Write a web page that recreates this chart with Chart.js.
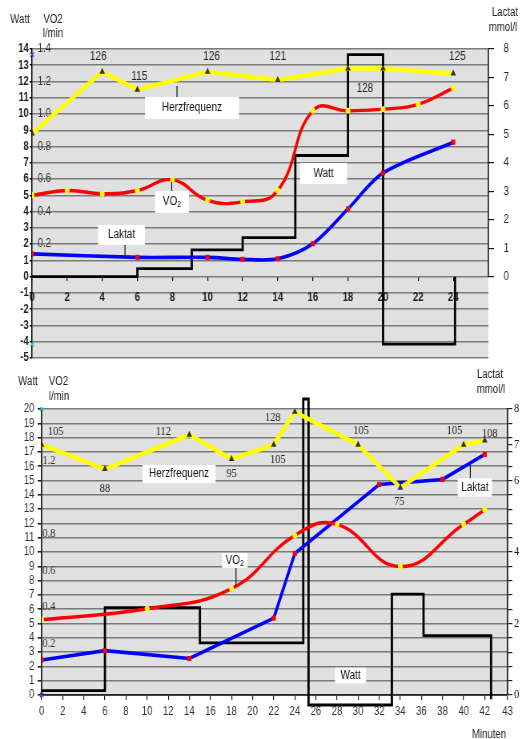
<!DOCTYPE html>
<html>
<head>
<meta charset="utf-8">
<title>Belastungstest – Watt, VO2, Herzfrequenz, Laktat</title>
<script src="https://cdn.jsdelivr.net/npm/chart.js@4.4.1/dist/chart.umd.min.js"></script>
<style>
  html, body { margin: 0; padding: 0; background: #fff; }
  #wrap { position: relative; width: 522px; height: 739px; overflow: hidden; }
  #wrap canvas { position: absolute; left: 0; top: 0; width: 522px; height: 739px; }
</style>
</head>
<body>
<div id="wrap">
  <canvas id="testA" width="652" height="739" style="width:522px;height:739px"></canvas>
  <canvas id="testB" width="652" height="739" style="width:522px;height:739px"></canvas>
</div>
<script>
// ---------------- Test A (upper panel) ----------------
const xTicksA = [0, 2, 4, 6, 8, 10, 12, 14, 16, 18, 20, 22, 24];
const wattTicksA = [-5, -4, -3, -2, -1, 0, 1, 2, 3, 4, 5, 6, 7, 8, 9, 10, 11, 12, 13, 14];
const vo2TicksA = [0.2, 0.4, 0.6, 0.8, 1.0, 1.2, 1.4];
const lactatTicksA = [0, 1, 2, 3, 4, 5, 6, 7, 8];

const vo2MinA = [0, 2, 4, 6, 8, 10, 12, 14, 16, 18, 20, 22, 24];
const vo2A = [0.50, 0.53, 0.51, 0.53, 0.595, 0.47, 0.46, 0.53, 1.02, 1.02, 1.03, 1.06, 1.16];

const lactatMinA = [0, 6, 10, 12, 14, 16, 18, 20, 24];
const lactatA = [0.81, 0.69, 0.69, 0.62, 0.64, 1.17, 2.39, 3.65, 4.73];

const hrMinA = [0, 4, 6, 10, 14, 18, 20, 24];
const hrA = [88, 126, 115, 126, 121, 128, 128, 125];

const wattMinA = [0, 6, 9.1, 12, 15, 18, 20, 24.1];
const wattA = [0, 0.5, 1.65, 2.4, 7.45, 13.65, -4.15, 0];

// ---------------- Test B (lower panel) ----------------
const xTicksB = [0, 2, 4, 6, 8, 10, 12, 14, 16, 18, 20, 22, 24, 26, 28, 30, 32, 34, 36, 38, 40, 42];
const xEndLabelB = '43';
const vo2TicksB = [0.2, 0.4, 0.6, 0.8, 1.2];
const lactatLabelsB = [0, 2, 4, 6, 7, 8];

const vo2MinB = [0, 10, 18, 24, 28, 34, 40, 42];
const vo2B = [0.33, 0.39, 0.50, 0.79, 0.85, 0.62, 0.85, 0.93];

const lactatMinB = [0, 6, 14, 22, 24, 32, 38, 42];
const lactatB = [0.98, 1.24, 1.02, 2.15, 3.96, 5.89, 6.03, 6.73];

const hrMinB = [0, 6, 14, 18, 22, 24, 30, 34, 40, 42];
const hrB = [105, 88, 112, 95, 105, 128, 105, 75, 105, 108];

const wattMinB = [0, 6, 15, 24.8, 25.3, 33.2, 36.2, 42.6];
const wattB = [0.3, 6.1, 3.65, 20.7, -0.7, 7.05, 4.15, -0.3];

// ---------------- drawing helpers ----------------
// The canvases are rendered 652 px wide and displayed 522 px wide.
const SX = 652 / 522;
const px = x => x * SX;
const SANS = "'Liberation Sans', Arial, Helvetica, sans-serif";
const SERIF = "'Liberation Serif', 'Times New Roman', Times, serif";
const INK = '#222';
const GRID = '#7a7a7a';
const PLOT_BG = '#e0e0e0';
const YELLOW = '#ffff00', RED = '#ff0000', BLUE = '#0000ff';

const pts = (xs, ys) => xs.map((x, i) => ({ x, y: ys[i] }));
const fixTicks = values => scale => { scale.ticks = values.map(v => ({ value: v })); };

function plotBackground() {
  return {
    id: 'plotBackground',
    beforeDraw(chart) {
      const { ctx, chartArea: a } = chart;
      ctx.save();
      ctx.fillStyle = PLOT_BG;
      ctx.fillRect(a.left, a.top, a.right - a.left, a.bottom - a.top);
      ctx.restore();
    }
  };
}

// value labels next to the heart-rate markers
function valueLabels(datasetIndex, shifts, font) {
  return {
    id: 'valueLabels',
    afterDatasetsDraw(chart) {
      const meta = chart.getDatasetMeta(datasetIndex);
      const data = chart.data.datasets[datasetIndex].data;
      const ctx = chart.ctx;
      ctx.save();
      ctx.font = font;
      ctx.fillStyle = INK;
      ctx.textAlign = 'center';
      ctx.textBaseline = 'middle';
      shifts.forEach((s, i) => {
        if (!s) return;
        const p = meta.data[i];
        ctx.fillText(String(data[i].y), p.x + px(s[0]), p.y + s[1]);
      });
      ctx.restore();
    }
  };
}

// white label boxes with short leader lines
function callouts(items, font) {
  return {
    id: 'callouts',
    afterDatasetsDraw(chart) {
      const ctx = chart.ctx;
      ctx.save();
      for (const it of items) {
        if (it.lead) {
          ctx.strokeStyle = '#111';
          ctx.lineWidth = 1.2;
          ctx.beginPath();
          ctx.moveTo(px(it.lead[0]), it.lead[1]);
          ctx.lineTo(px(it.lead[0]), it.lead[2]);
          ctx.stroke();
        }
        const [x0, y0, x1, y1] = it.box;
        ctx.fillStyle = '#fff';
        ctx.fillRect(px(x0), y0, px(x1 - x0), y1 - y0);
        ctx.fillStyle = '#111';
        ctx.textBaseline = 'middle';
        ctx.textAlign = 'left';
        ctx.font = font;
        const subFont = font.replace(/[\d.]+px/, m => (parseFloat(m) * 0.72).toFixed(1) + 'px');
        const wMain = ctx.measureText(it.text).width;
        ctx.font = subFont;
        const wSub = it.sub ? ctx.measureText(it.sub).width : 0;
        const cx = px((x0 + x1) / 2), cy = (y0 + y1) / 2;
        const start = cx - (wMain + wSub) / 2;
        ctx.font = font;
        ctx.fillText(it.text, start, cy);
        if (it.sub) {
          ctx.font = subFont;
          ctx.fillText(it.sub, start + wMain, cy + 3);
        }
      }
      ctx.restore();
    }
  };
}

// axis captions outside the plot
function captions(items, font) {
  return {
    id: 'captions',
    afterDraw(chart) {
      const ctx = chart.ctx;
      ctx.save();
      ctx.font = font;
      ctx.fillStyle = INK;
      ctx.textAlign = 'center';
      ctx.textBaseline = 'middle';
      for (const c of items) ctx.fillText(c.text, px(c.x), c.y);
      ctx.restore();
    }
  };
}

// upper panel: the lactate axis line only spans 0…8
function partialAxisLine(scaleId, from, to) {
  return {
    id: 'partialAxisLine',
    afterDraw(chart) {
      const s = chart.scales[scaleId];
      const ctx = chart.ctx;
      ctx.save();
      ctx.strokeStyle = '#111';
      ctx.lineWidth = 1.5;
      ctx.beginPath();
      ctx.moveTo(s.left, s.getPixelForValue(from));
      ctx.lineTo(s.left, s.getPixelForValue(to));
      ctx.stroke();
      ctx.restore();
    }
  };
}

function baseOptions() {
  return {
    responsive: false,
    animation: false,
    devicePixelRatio: 1,
    events: [],
    plugins: { legend: { display: false }, tooltip: { enabled: false } }
  };
}

// ---------------- chart A ----------------
new Chart(document.getElementById('testA'), {
  type: 'line',
  data: {
    datasets: [
      { label: 'Watt', data: pts(wattMinA, wattA), yAxisID: 'y', stepped: 'before',
        borderColor: '#000', borderWidth: 2.8, pointRadius: 0, fill: false, order: 5, clip: false },
      { label: 'Laktat', data: pts(lactatMinA, lactatA), yAxisID: 'lac', tension: 0.3,
        borderColor: BLUE, borderWidth: 3.6, pointStyle: 'rect', pointRadius: 3.6,
        pointBackgroundColor: RED, pointBorderWidth: 0, order: 4 },
      { label: 'VO2', data: pts(vo2MinA, vo2A), yAxisID: 'vo2', tension: 0.45,
        borderColor: RED, borderWidth: 3.4, pointRadius: 3, pointBackgroundColor: YELLOW,
        pointBorderWidth: 0, order: 3 },
      { label: 'Herzfrequenz', data: pts(hrMinA, hrA), yAxisID: 'hr', tension: 0,
        borderColor: YELLOW, borderWidth: 4.5, pointStyle: 'triangle', pointRadius: 4,
        pointBackgroundColor: '#333', pointBorderWidth: 0, order: 2 },
      { label: 'Skala', data: [{ x: 0, y: 13.65 }, { x: 0, y: -4.15 }], yAxisID: 'y', showLine: false,
        pointStyle: 'crossRot', pointRadius: 3, pointBorderWidth: 1.4,
        pointBorderColor: ['#2a3cff', '#22cccc'], order: 1, clip: false }
    ]
  },
  options: Object.assign(baseOptions(), {
    layout: { padding: { top: 49, bottom: 739 - 358, left: 0, right: 0 } },
    scales: {
      x: {
        type: 'linear', min: 0, max: 26, position: { y: 0 },
        afterBuildTicks: fixTicks(xTicksA),
        ticks: { autoSkip: false, maxRotation: 0, padding: 10, color: INK,
                 font: { family: SANS, size: 12, weight: 'bold' }, callback: v => String(v) },
        grid: { drawOnChartArea: false, drawTicks: true, tickLength: 4, color: '#000', tickColor: '#000', lineWidth: 1.2 },
        border: { display: false }
      },
      y: {
        type: 'linear', position: 'left', weight: 3, min: -5, max: 14,
        afterBuildTicks: fixTicks(wattTicksA),
        afterFit: s => { s.width = 40; },
        ticks: { autoSkip: false, padding: 1, color: INK, font: { family: SANS, size: 12, weight: 'bold' },
                 callback: v => String(v) },
        grid: { color: GRID, lineWidth: 1.6, tickLength: 3, tickColor: '#000' },
        border: { display: true, color: '#000', width: 1.5 }
      },
      vo2: {
        type: 'linear', position: 'left', weight: 2, min: -0.5, max: 1.4,
        afterBuildTicks: fixTicks(vo2TicksA),
        afterFit: s => { s.width = 0; },
        ticks: { mirror: true, autoSkip: false, padding: 7, color: '#333',
                 font: { family: SANS, size: 12 }, callback: v => v.toFixed(1) },
        grid: { display: false },
        border: { display: false }
      },
      lac: {
        type: 'linear', position: 'right', min: -2.842, max: 8,
        afterBuildTicks: fixTicks(lactatTicksA),
        afterFit: s => { s.width = 42; },
        ticks: { autoSkip: false, padding: 12, color: INK, font: { family: SANS, size: 12 },
                 callback: v => String(v) },
        grid: { drawOnChartArea: false, tickLength: 7, color: '#111', lineWidth: 1.2 },
        border: { display: false }
      },
      hr: { type: 'linear', display: false, min: -50, max: 140 }
    }
  }),
  plugins: [
    plotBackground(),
    valueLabels(3, [null, [-4, -15], [2, -13], [4, -15], [0, -23], [17, 20], null, [4, -17]],
                `12.5px ${SANS}`),
    callouts([
      { text: 'Herzfrequenz', box: [145, 97, 239, 119], lead: [177, 86, 97] },
      { text: 'VO', sub: '2', box: [155, 191, 189, 213], lead: [171.7, 182, 191] },
      { text: 'Laktat', box: [98, 225, 145, 245], lead: [125, 245, 257] },
      { text: 'Watt', box: [300, 163, 347, 184] }
    ], `12.5px ${SANS}`),
    captions([
      { text: 'Watt', x: 20, y: 20 },
      { text: 'VO2', x: 53, y: 20 },
      { text: 'l/min', x: 53, y: 34 },
      { text: 'Lactat', x: 505, y: 13 },
      { text: 'mmol/l', x: 503, y: 28 }
    ], `12px ${SANS}`),
    partialAxisLine('lac', 0, 8)
  ]
});

// ---------------- chart B ----------------
const xMaxB = 44.17;
const vo2AxisB = { min: -0.080, max: 1.4788 };
const lactatTicksB = [];
for (let i = 0; i <= 20; i++) lactatTicksB.push(Math.round(i * 0.4 * 10) / 10);
lactatTicksB.push(7);

new Chart(document.getElementById('testB'), {
  type: 'line',
  data: {
    datasets: [
      { label: 'Watt', data: pts(wattMinB, wattB), yAxisID: 'y', stepped: 'before',
        borderColor: '#000', borderWidth: 2.8, pointRadius: 0, fill: false, order: 5, clip: false },
      { label: 'Laktat', data: pts(lactatMinB, lactatB), yAxisID: 'lac', tension: 0,
        borderColor: BLUE, borderWidth: 3.6, pointStyle: 'rect', pointRadius: 3.6,
        pointBackgroundColor: RED, pointBorderWidth: 0, order: 4 },
      { label: 'VO2', data: pts(vo2MinB, vo2B), yAxisID: 'vo2', tension: 0.45,
        borderColor: RED, borderWidth: 3.4, pointRadius: 3, pointBackgroundColor: YELLOW,
        pointBorderWidth: 0, order: 3 },
      { label: 'Herzfrequenz', data: pts(hrMinB, hrB), yAxisID: 'hr', tension: 0,
        borderColor: YELLOW, borderWidth: 4.5, pointStyle: 'triangle', pointRadius: 4,
        pointBackgroundColor: '#333', pointBorderWidth: 0, order: 2 },
      { label: 'Skala', data: [{ x: 0, y: 20 }, { x: 0, y: 0 }], yAxisID: 'y', showLine: false,
        pointStyle: 'crossRot', pointRadius: 3, pointBorderWidth: 1.4,
        pointBorderColor: ['#22cccc', '#2a3cff'], order: 1, clip: false }
    ]
  },
  options: Object.assign(baseOptions(), {
    layout: { padding: { top: 409, bottom: 14, left: 0, right: 0 } },
    scales: {
      x: {
        type: 'linear', min: 0, max: xMaxB, position: 'bottom',
        afterBuildTicks: s => { s.ticks = xTicksB.concat([xMaxB]).map(v => ({ value: v })); },
        afterFit: s => { s.height = 30; },
        ticks: { autoSkip: false, maxRotation: 0, padding: 4, color: '#333',
                 font: { family: SANS, size: 12 },
                 callback: v => (v === xMaxB ? xEndLabelB : String(v)) },
        grid: { drawOnChartArea: false, tickLength: 5, color: '#222', tickColor: '#222', lineWidth: 1.2 },
        border: { display: true, color: '#222', width: 1.8 }
      },
      y: {
        type: 'linear', position: 'left', weight: 3, min: 0, max: 20,
        afterFit: s => { s.width = 52; },
        ticks: { stepSize: 1, autoSkip: false, padding: 4, color: '#333',
                 font: { family: SANS, size: 12 }, callback: v => String(v) },
        grid: { color: GRID, lineWidth: 1.6, tickLength: 5, tickColor: '#222' },
        border: { display: true, color: '#222', width: 1.8 }
      },
      vo2: {
        type: 'linear', position: 'left', weight: 2, min: vo2AxisB.min, max: vo2AxisB.max,
        afterBuildTicks: fixTicks(vo2TicksB),
        afterFit: s => { s.width = 0; },
        ticks: { mirror: true, autoSkip: false, padding: 1, color: '#333',
                 font: { family: SERIF, size: 13 }, callback: v => v.toFixed(1) },
        grid: { display: false },
        border: { display: false }
      },
      lac: {
        type: 'linear', position: 'right', min: 0, max: 8,
        afterBuildTicks: fixTicks(lactatTicksB),
        afterFit: s => { s.width = 18; },
        ticks: { autoSkip: false, padding: 2, color: INK, font: { family: SERIF, size: 13 },
                 callback: v => (lactatLabelsB.includes(v) ? String(v) : '') },
        grid: { drawOnChartArea: false, tickLength: 6, color: '#222', lineWidth: 1.2 },
        border: { display: true, color: '#222', width: 1.8 }
      },
      hr: { type: 'linear', display: false, min: -70, max: 130 }
    }
  }),
  plugins: [
    plotBackground(),
    valueLabels(3, [[14, -13], [0, 20], [-26, -3], [0, 15], [4, 15], [-22, 6], [3, -14], [-1, 14], [-9, -14], [5, -7]],
                `13px ${SERIF}`),
    callouts([
      { text: 'Herzfrequenz', box: [142.5, 465, 215.5, 483] },
      { text: 'VO', sub: '2', box: [222, 553, 247.5, 568], lead: [236, 568, 586] },
      { text: 'Laktat', box: [457.7, 478.3, 492, 496.7], lead: [470.3, 465, 478.3] },
      { text: 'Watt', box: [335, 667.7, 366, 683.3] }
    ], `12.5px ${SANS}`),
    captions([
      { text: 'Watt', x: 28, y: 382 },
      { text: 'VO2', x: 58.5, y: 382 },
      { text: 'l/min', x: 59, y: 397 },
      { text: 'Lactat', x: 490, y: 375 },
      { text: 'mmol/l', x: 491, y: 390 },
      { text: 'Minuten', x: 489, y: 735 }
    ], `12px ${SANS}`)
  ]
});
</script>
</body>
</html>
